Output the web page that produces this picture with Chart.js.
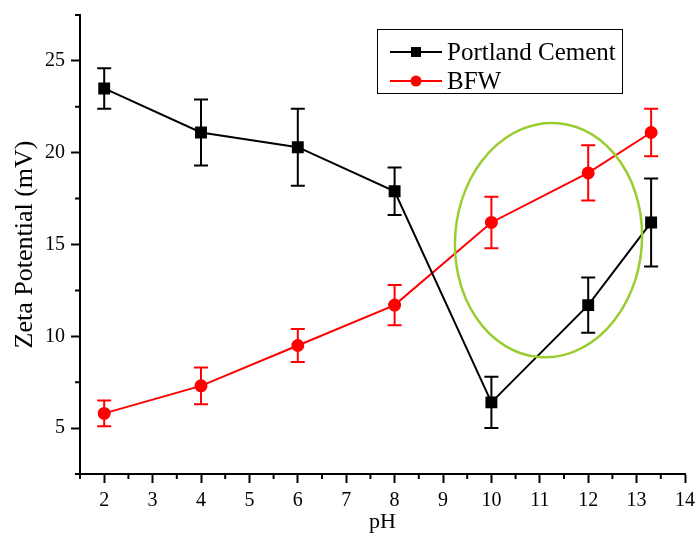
<!DOCTYPE html>
<html>
<head>
<meta charset="utf-8">
<script src="https://cdn.jsdelivr.net/npm/chart.js@4/dist/chart.umd.min.js"></script>
<style>
    html, body { margin: 0; padding: 0; background: #ffffff; }
    #wrap { width: 700px; height: 535px; }
</style>
</head>
<body>
<div id="wrap"><canvas id="chart-canvas"></canvas></div>
<script>
// Values
const phValues = [2, 4, 6, 8, 10, 12, 13.3];
const cementZeta = [23.5, 21.1, 20.3, 17.9, 6.4, 11.7, 16.2];
const cementErr = [1.1, 1.8, 2.1, 1.3, 1.4, 1.5, 2.4];
const bfwZeta = [5.8, 7.3, 9.5, 11.7, 16.2, 18.9, 21.1];
const bfwErr = [0.7, 1.0, 0.9, 1.1, 1.4, 1.5, 1.3];

// Axis ticks
const xTicks = [2, 3, 4, 5, 6, 7, 8, 9, 10, 11, 12, 13, 14];
const yTicks = [5, 10, 15, 20, 25];

// Highlight ellipse, in data units
const highlight = { x: 11.18, y: 15.24, rx: 1.93, ry: 6.39 };

const serif = '"Liberation Serif", "Times New Roman", serif';

const toPoints = (ys) => ys.map((y, i) => ({ x: phValues[i], y: y }));

// Error bars drawn from the err arrays through the scales
const errorBars = {
    id: 'errorBars',
    afterDatasetsDraw(chart) {
        const { ctx, scales: { x, y } } = chart;
        ctx.save();
        chart.data.datasets.forEach(ds => {
            ctx.strokeStyle = ds.borderColor;
            ctx.lineWidth = 2;
            ds.data.forEach((p, i) => {
                const px = x.getPixelForValue(p.x);
                const top = y.getPixelForValue(p.y + ds.errors[i]);
                const bot = y.getPixelForValue(p.y - ds.errors[i]);
                ctx.beginPath();
                ctx.moveTo(px, top); ctx.lineTo(px, bot);
                ctx.moveTo(px - 7, top); ctx.lineTo(px + 7, top);
                ctx.moveTo(px - 7, bot); ctx.lineTo(px + 7, bot);
                ctx.stroke();
            });
        });
        ctx.restore();
    }
};

// Green ellipse around the pH 10-13 region
const ellipseMark = {
    id: 'ellipseMark',
    afterDatasetsDraw(chart) {
        const { ctx, scales: { x, y } } = chart;
        const cx = x.getPixelForValue(highlight.x);
        const cy = y.getPixelForValue(highlight.y);
        const rx = x.getPixelForValue(highlight.x + highlight.rx) - cx;
        const ry = cy - y.getPixelForValue(highlight.y + highlight.ry);
        ctx.save();
        ctx.strokeStyle = '#9acd32';
        ctx.lineWidth = 2.5;
        ctx.beginPath();
        ctx.ellipse(cx, cy, rx, ry, 0.08, 0, Math.PI * 2);
        ctx.stroke();
        ctx.restore();
    }
};

// Short minor ticks between the labelled ones
const minorTicks = {
    id: 'minorTicks',
    afterDraw(chart) {
        const { ctx, scales: { x, y } } = chart;
        ctx.save();
        ctx.strokeStyle = '#000';
        ctx.lineWidth = 2;
        ctx.beginPath();
        for (let v = x.min; v <= x.max; v += 0.5) {
            if (Number.isInteger(v)) continue;
            const px = x.getPixelForValue(v);
            ctx.moveTo(px, x.top); ctx.lineTo(px, x.top + 5);
        }
        for (let v = y.min; v <= y.max; v += 2.5) {
            if (v % 5 === 0) continue;
            const py = y.getPixelForValue(v);
            ctx.moveTo(y.right, py); ctx.lineTo(y.right - 5, py);
        }
        ctx.stroke();
        ctx.restore();
    }
};

// Boxed legend in the upper right
const boxLegend = {
    id: 'boxLegend',
    afterDraw(chart) {
        const { ctx } = chart;
        const left = 377, top = 29, w = 245, h = 64;
        ctx.save();
        ctx.strokeStyle = '#000';
        ctx.lineWidth = 1;
        ctx.strokeRect(left + 0.5, top + 0.5, w, h);
        ctx.font = '25px ' + serif;
        ctx.textBaseline = 'middle';
        chart.data.datasets.forEach((ds, i) => {
            const ry = top + 23 + i * 29;
            ctx.strokeStyle = ds.borderColor;
            ctx.lineWidth = 2;
            ctx.beginPath();
            ctx.moveTo(left + 13, ry); ctx.lineTo(left + 65, ry);
            ctx.stroke();
            ctx.fillStyle = ds.pointBackgroundColor;
            if (ds.pointStyle === 'rect') {
                ctx.fillRect(left + 39 - 5, ry - 5, 10, 10);
            } else {
                ctx.beginPath();
                ctx.arc(left + 39, ry, 5.5, 0, Math.PI * 2);
                ctx.fill();
            }
            ctx.fillStyle = '#000';
            ctx.fillText(ds.label, left + 70, ry + 1);
        });
        ctx.restore();
    }
};

const axisCommon = {
    type: 'linear',
    border: { color: '#000', width: 2 },
    grid: {
        drawOnChartArea: false,
        drawTicks: true,
        tickLength: 9,
        tickWidth: 2,
        tickColor: '#000'
    },
    ticks: {
        color: '#000',
        font: { family: serif, size: 20 },
        padding: 6
    },
    title: {
        display: true,
        color: '#000',
        font: { family: serif, size: 26 }
    }
};

new Chart(document.getElementById('chart-canvas'), {
    type: 'line',
    data: {
        datasets: [
            {
                label: 'Portland Cement',
                data: toPoints(cementZeta),
                errors: cementErr,
                borderColor: '#000000',
                backgroundColor: '#000000',
                pointBackgroundColor: '#000000',
                pointBorderColor: '#000000',
                pointStyle: 'rect',
                pointRadius: 7,
                borderWidth: 2,
                tension: 0
            },
            {
                label: 'BFW',
                data: toPoints(bfwZeta),
                errors: bfwErr,
                borderColor: '#ff0000',
                backgroundColor: '#ff0000',
                pointBackgroundColor: '#ff0000',
                pointBorderColor: '#ff0000',
                pointStyle: 'circle',
                pointRadius: 5.5,
                borderWidth: 2,
                tension: 0
            }
        ]
    },
    options: {
        responsive: true,
        maintainAspectRatio: false,
        animation: false,
        layout: { padding: { top: 15, right: 15, left: 0, bottom: 0 } },
        plugins: {
            legend: { display: false },
            tooltip: { enabled: false }
        },
        scales: {
            x: {
                ...axisCommon,
                position: 'bottom',
                min: 1.5,
                max: 14,
                afterBuildTicks: (scale) => { scale.ticks = xTicks.map(v => ({ value: v })); },
                afterFit: (scale) => { scale.height = 61; scale.paddingLeft = 0; scale.paddingRight = 0; },
                title: { ...axisCommon.title, font: { family: serif, size: 22 }, text: 'pH', padding: { top: -4, bottom: 0 } }
            },
            y: {
                ...axisCommon,
                position: 'left',
                min: 2.5,
                max: 27.5,
                afterBuildTicks: (scale) => { scale.ticks = yTicks.map(v => ({ value: v })); },
                afterFit: (scale) => { scale.width = 80; scale.paddingTop = 0; scale.paddingBottom = 0; },
                title: { ...axisCommon.title, text: 'Zeta Potential (mV)', padding: { top: 10, bottom: 0 } }
            }
        }
    },
    plugins: [errorBars, ellipseMark, minorTicks, boxLegend]
});
</script>
</body>
</html>
